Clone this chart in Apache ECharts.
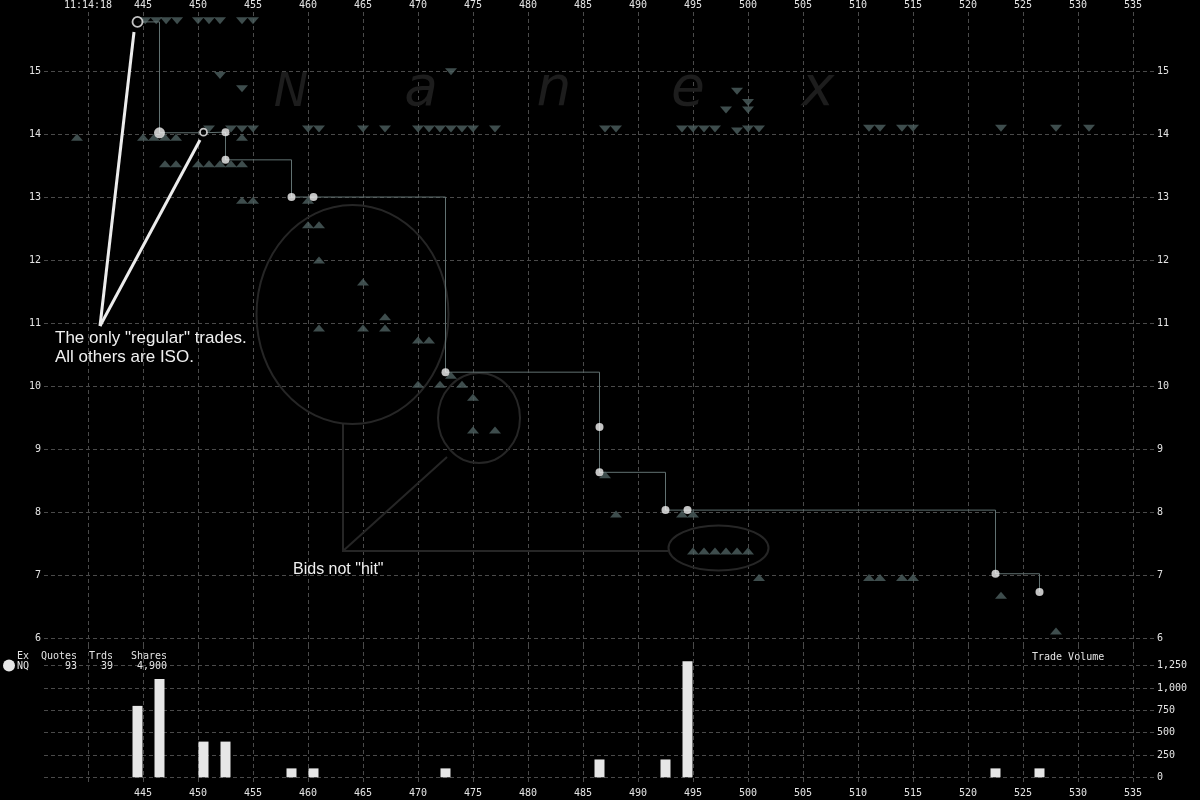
<!DOCTYPE html>
<html><head><meta charset="utf-8">
<script src="https://cdn.jsdelivr.net/npm/echarts@6/dist/echarts.min.js"></script>
<style>html,body{margin:0;padding:0;background:#000;}#c{width:1200px;height:800px;}</style>
</head><body><div id="c"></div>
<script>
// ---- tick labels ----
const timeTicks = [440,445,450,455,460,465,470,475,480,485,490,495,500,505,510,515,520,525,530,535];
const firstTimeLabel = '11:14:18';
const priceTicks = [6,7,8,9,10,11,12,13,14,15];
const volumeTicks = [0,250,500,750,1000,1250];

// ---- quotes: asks (down triangles) ----
const askTimes = [445.2,446.2,447.1,448.1,450,451,452,454,455,
  452,454,473,498,499,500,500,
  451,453,454,455,460,461,465,467,470,471,472,473,474,475,477,487,488,494,495,496,497,499,500,501,511,512,514,515,523,528,531];
const askPrices = [15.80,15.80,15.80,15.80,15.80,15.80,15.80,15.80,15.80,
  14.93,14.72,14.99,14.38,14.68,14.50,14.38,
  14.08,14.08,14.08,14.08,14.08,14.08,14.08,14.08,14.08,14.08,14.08,14.08,14.08,14.08,14.08,14.08,14.08,14.08,14.08,14.08,14.08,14.05,14.08,14.08,14.09,14.09,14.09,14.09,14.09,14.09,14.09];

// ---- quotes: bids (up triangles) ----
const bidTimes = [439,445,446,447,448,454,
  447,448,450,451,452,453,454,
  454,455,460,
  460,461,461,465,467,
  461,465,467,470,471,473,470,472,474,475,475,477,
  487,488,494,495,
  495,496,497,498,499,500,
  501,511,512,514,515,523,528];
const bidPrices = [13.95,13.95,13.95,13.95,13.95,13.95,
  13.53,13.53,13.53,13.53,13.53,13.53,13.53,
  12.95,12.95,12.95,
  12.56,12.56,12.00,11.65,11.10,
  10.92,10.92,10.92,10.73,10.73,10.17,10.03,10.03,10.03,9.82,9.30,9.30,
  8.59,7.97,7.97,7.97,
  7.38,7.38,7.38,7.38,7.38,7.38,
  6.96,6.96,6.96,6.96,6.96,6.68,6.11];

// ---- trades ----
const tradeTimes = [444.5,446.5,450.5,452.5,452.5,458.5,460.5,472.5,486.5,486.5,492.5,494.5,522.5,526.5];
const tradePrices = [15.78,14.02,14.03,14.03,13.59,13.00,13.00,10.22,9.35,8.63,8.03,8.03,7.02,6.73];
const tradeRegular = [true,false,true,false,false,false,false,false,false,false,false,false,false,false];

// ---- trade volume per second ----
const volumeTimes = [444.5,446.5,450.5,452.5,458.5,460.5,472.5,486.5,492.5,494.5,522.5,526.5];
const volumeShares = [800,1100,400,400,100,100,100,200,200,1300,100,100];

const exchangeName = 'NQ';
const quoteCount = 93;
const tradeCount = 39;

// ---- build ----
const zip = (a, b) => a.map((v, i) => [v, b[i]]);
const askData = zip(askTimes, askPrices);
const bidData = zip(bidTimes, bidPrices);
const tradeLine = zip(tradeTimes, tradePrices);
const isoTrades = [], regTrades = [];
tradeTimes.forEach((t, i) => {
  (tradeRegular[i] ? regTrades : isoTrades).push({ value: [t, tradePrices[i]], idx: i });
});
const volData = zip(volumeTimes, volumeShares);
const totalShares = volumeShares.reduce((a, b) => a + b, 0);
const fmtThousands = v => String(v).replace(/\B(?=(\d{3})+(?!\d))/g, ',');

const TXT = '#e4e4e4';
const GRID = '#4a4a4a';
const MONO = 'DejaVu Sans Mono';
const QUOTE = '#4e6060';

const splitLine = { show: true, lineStyle: { color: GRID, type: [4, 3], width: 1 } };

const chart = echarts.init(document.getElementById('c'), null, { renderer: 'canvas' });

const option = {
  backgroundColor: '#000',
  animation: false,
  grid: [
    { left: 44, top: 12, width: 1111, height: 633 },
    { left: 44, top: 645, width: 1111, height: 140 }
  ],
  xAxis: [
    { type: 'value', gridIndex: 0, min: 436, max: 537, position: 'top',
      axisLine: { show: false }, axisTick: { show: false, customValues: timeTicks },
      axisLabel: { customValues: timeTicks, color: TXT, fontFamily: MONO, fontSize: 10, margin: 2,
        formatter: v => (v === timeTicks[0] ? firstTimeLabel : String(v)) },
      splitLine: splitLine },
    { type: 'value', gridIndex: 1, min: 436, max: 537, position: 'bottom',
      axisLine: { show: false }, axisTick: { show: false, customValues: timeTicks },
      axisLabel: { customValues: timeTicks, color: TXT, fontFamily: MONO, fontSize: 10, margin: 3,
        formatter: v => (v === timeTicks[0] ? '' : String(v)) },
      splitLine: splitLine }
  ],
  yAxis: [
    { type: 'value', gridIndex: 0, min: 5.889, max: 15.937, position: 'left',
      axisLine: { show: false }, axisTick: { show: false, customValues: priceTicks },
      axisLabel: { customValues: priceTicks, color: TXT, fontFamily: MONO, fontSize: 10, margin: 3 },
      splitLine: splitLine },
    { type: 'value', gridIndex: 0, min: 5.889, max: 15.937, position: 'right',
      axisLine: { show: false }, axisTick: { show: false, customValues: priceTicks },
      axisLabel: { customValues: priceTicks, color: TXT, fontFamily: MONO, fontSize: 10, margin: 2 },
      splitLine: { show: false } },
    { type: 'value', gridIndex: 1, min: -86, max: 1482, position: 'right',
      axisLine: { show: false }, axisTick: { show: false, customValues: volumeTicks },
      axisLabel: { customValues: volumeTicks, color: TXT, fontFamily: MONO, fontSize: 10, margin: 2,
        formatter: v => fmtThousands(v) },
      splitLine: splitLine }
  ],
  series: [
    { name: 'Asks', type: 'scatter', xAxisIndex: 0, yAxisIndex: 0, data: askData,
      symbol: 'triangle', symbolRotate: 180, symbolSize: [12, 7], itemStyle: { color: QUOTE }, z: 3 },
    { name: 'Bids', type: 'scatter', xAxisIndex: 0, yAxisIndex: 0, data: bidData,
      symbol: 'triangle', symbolSize: [12, 7], itemStyle: { color: QUOTE }, z: 3 },
    { name: 'Trade path', type: 'line', xAxisIndex: 0, yAxisIndex: 0, data: tradeLine, step: 'end',
      showSymbol: false, symbol: 'none', lineStyle: { color: '#617171', width: 1 }, z: 4 },
    { name: 'ISO trades', type: 'scatter', xAxisIndex: 0, yAxisIndex: 0, data: isoTrades,
      symbol: 'circle', symbolSize: (v, p) => (p.data.idx === 1 ? 11 : 8),
      itemStyle: { color: '#f4f4f4' }, z: 5 },
    { name: 'Regular trades', type: 'scatter', xAxisIndex: 0, yAxisIndex: 0, data: regTrades,
      symbol: 'circle', symbolSize: (v, p) => (p.data.idx === 0 ? 10 : 7),
      itemStyle: { color: '#000', borderColor: '#f4f4f4', borderWidth: 1.8 }, z: 5 },
    { name: 'Trade Volume', type: 'bar', xAxisIndex: 1, yAxisIndex: 2, data: volData,
      barWidth: 10, itemStyle: { color: '#e6e6e6' }, z: 3 }
  ],
  graphic: [
    // watermark
    { type: 'text', z: 1, silent: true, style: { text: 'N', x: 291, y: 94, align: 'center', verticalAlign: 'middle', fill: '#1d1d1d', font: 'italic 46px "DejaVu Sans"' } },
    { type: 'text', z: 1, silent: true, style: { text: 'a', x: 421, y: 91, align: 'center', verticalAlign: 'middle', fill: '#1d1d1d', font: 'italic 55px "DejaVu Sans"' } },
    { type: 'text', z: 1, silent: true, style: { text: 'n', x: 554, y: 91, align: 'center', verticalAlign: 'middle', fill: '#1d1d1d', font: 'italic 55px "DejaVu Sans"' } },
    { type: 'text', z: 1, silent: true, style: { text: 'e', x: 688, y: 91, align: 'center', verticalAlign: 'middle', fill: '#1d1d1d', font: 'italic 55px "DejaVu Sans"' } },
    { type: 'text', z: 1, silent: true, style: { text: 'x', x: 818, y: 91, align: 'center', verticalAlign: 'middle', fill: '#1d1d1d', font: 'italic 55px "DejaVu Sans"' } },
    // dark annotation ellipses
    { type: 'ellipse', z: 1, silent: true, shape: { cx: 352.5, cy: 314.5, rx: 96, ry: 109.5 }, style: { fill: null, stroke: '#262626', lineWidth: 2 } },
    { type: 'ellipse', z: 1, silent: true, shape: { cx: 479, cy: 418, rx: 41, ry: 45 }, style: { fill: null, stroke: '#262626', lineWidth: 2 } },
    { type: 'ellipse', z: 1, silent: true, shape: { cx: 718.5, cy: 548, rx: 50, ry: 22.5 }, style: { fill: null, stroke: '#262626', lineWidth: 2 } },
    { type: 'polyline', z: 1, silent: true, shape: { points: [[343, 424], [343, 551], [668, 551]] }, style: { fill: null, stroke: '#262626', lineWidth: 2 } },
    { type: 'line', z: 1, silent: true, shape: { x1: 343, y1: 551, x2: 447, y2: 457 }, style: { stroke: '#262626', lineWidth: 2 } },
    // white pointer lines
    { type: 'line', z: 10, silent: true, shape: { x1: 100, y1: 326, x2: 134, y2: 32 }, style: { stroke: '#ececec', lineWidth: 3 } },
    { type: 'line', z: 10, silent: true, shape: { x1: 100, y1: 326, x2: 200, y2: 140 }, style: { stroke: '#ececec', lineWidth: 3 } },
    // annotation text
    { type: 'text', z: 10, silent: true, style: { text: 'The only "regular" trades.', x: 55, y: 338, verticalAlign: 'middle', fill: '#f0f0f0', font: '17px "Liberation Sans"' } },
    { type: 'text', z: 10, silent: true, style: { text: 'All others are ISO.', x: 55, y: 357, verticalAlign: 'middle', fill: '#f0f0f0', font: '17px "Liberation Sans"' } },
    { type: 'text', z: 10, silent: true, style: { text: 'Bids not "hit"', x: 293, y: 570, verticalAlign: 'middle', fill: '#f0f0f0', font: '16px "Liberation Sans"' } },
    // volume pane header
    { type: 'circle', z: 10, silent: true, shape: { cx: 9, cy: 665.5, r: 6 }, style: { fill: '#e6e6e6' } },
    { type: 'text', z: 10, silent: true, style: { text: 'Ex', x: 29, y: 656, align: 'right', verticalAlign: 'middle', fill: TXT, font: '10px "DejaVu Sans Mono"' } },
    { type: 'text', z: 10, silent: true, style: { text: 'Quotes', x: 77, y: 656, align: 'right', verticalAlign: 'middle', fill: TXT, font: '10px "DejaVu Sans Mono"' } },
    { type: 'text', z: 10, silent: true, style: { text: 'Trds', x: 113, y: 656, align: 'right', verticalAlign: 'middle', fill: TXT, font: '10px "DejaVu Sans Mono"' } },
    { type: 'text', z: 10, silent: true, style: { text: 'Shares', x: 167, y: 656, align: 'right', verticalAlign: 'middle', fill: TXT, font: '10px "DejaVu Sans Mono"' } },
    { type: 'text', z: 10, silent: true, style: { text: exchangeName, x: 29, y: 666, align: 'right', verticalAlign: 'middle', fill: TXT, font: '10px "DejaVu Sans Mono"' } },
    { type: 'text', z: 10, silent: true, style: { text: String(quoteCount), x: 77, y: 666, align: 'right', verticalAlign: 'middle', fill: TXT, font: '10px "DejaVu Sans Mono"' } },
    { type: 'text', z: 10, silent: true, style: { text: String(tradeCount), x: 113, y: 666, align: 'right', verticalAlign: 'middle', fill: TXT, font: '10px "DejaVu Sans Mono"' } },
    { type: 'text', z: 10, silent: true, style: { text: fmtThousands(totalShares), x: 167, y: 666, align: 'right', verticalAlign: 'middle', fill: TXT, font: '10px "DejaVu Sans Mono"' } },
    { type: 'text', z: 10, silent: true, style: { text: 'Trade Volume', x: 1032, y: 657, align: 'left', verticalAlign: 'middle', fill: TXT, font: '10px "DejaVu Sans Mono"' } }
  ]
};
chart.setOption(option);
</script></body></html>
